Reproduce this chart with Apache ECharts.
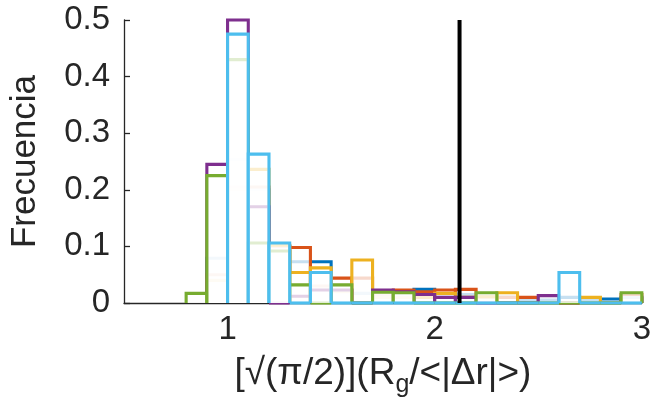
<!DOCTYPE html>
<html>
<head>
<meta charset="utf-8">
<script src="https://cdn.jsdelivr.net/npm/echarts@6/dist/echarts.min.js"></script>
<style>
  html, body { margin: 0; padding: 0; background: #ffffff; }
  #chart { width: 654px; height: 410px; }
</style>
</head>
<body>
<div id="chart"></div>
<script>
// Left edges of the histogram bins (all bins are 0.1 wide)
const binEdges = [0.8, 0.9, 1.0, 1.1, 1.2, 1.3, 1.4, 1.5, 1.6, 1.7, 1.8,
                  1.9, 2.0, 2.1, 2.2, 2.3, 2.4, 2.5, 2.6, 2.7, 2.8, 2.9];
const binWidth = 0.1;

// Relative frequency per bin for each data set (null = outside that set's range)
const freqSet1 = [null, 0.079, 0.253, 0.200, 0.100, 0.073, 0.073, 0.020, 0.017, 0.015, 0.015,
                  0.024, 0.015, 0.015, 0.010, 0.010, 0.005, 0.005, 0.010, 0.005, 0.007, 0.010];
const freqSet2 = [null, 0.050, 0.205, 0.205, 0.100, 0.098, 0.030, 0.044, 0.044, 0.015, 0.023,
                  0.020, 0.023, 0.024, 0.010, 0.010, 0.010, 0, 0, 0, 0, 0.015];
const freqSet3 = [null, 0.040, 0.200, 0.236, 0.102, 0.054, 0.062, 0.020, 0.076, 0.010, 0.010,
                  0.010, 0.017, 0.010, 0.011, 0.018, 0, 0, 0, 0.010, 0, null];
const freqSet4 = [null, 0.245, 0.500, 0.170, 0, 0.012, 0.023, 0.023, 0, 0.023, 0.020,
                  0.015, 0.010, 0.010, 0, 0, 0, 0.013, 0, null, null, null];
const freqSet5 = [0.017, 0.225, 0.430, 0.106, 0.092, 0.032, 0, 0.032, 0, 0.019, 0.018,
                  0, 0, 0, 0.018, 0, 0, 0, 0, 0, 0, 0.018];
const freqSet6 = [null, null, 0.475, 0.263, 0.106, 0, 0.054, 0, 0, 0, 0,
                  0, 0, 0, 0, 0, 0, 0, 0.054, 0, 0, 0];

const setColors = ['#0072BD', '#D95319', '#EDB120', '#7E2F8E', '#77AC30', '#4DBEEE'];
const allSets = [freqSet1, freqSet2, freqSet3, freqSet4, freqSet5, freqSet6];

// Reference value marked by the vertical line
const thresholdX = 2.12;

const xTicks = [1, 2, 3];
const yMin = 0, yMax = 0.5, yStep = 0.1;

const textColor = '#262626';
const fontFamily = '"Liberation Sans", Arial, Helvetica, sans-serif';

// One outlined bar per bin: translucent white face, coloured top and sides,
// empty bins collapse to a coloured segment on the baseline.
function renderBin(params, api) {
  const x0 = api.value(0);
  const h = api.value(1);
  const base = api.coord([x0, 0]);
  const top = api.coord([x0 + binWidth, h]);
  const color = api.visual('color');
  const lw = 3.1;
  if (h === 0) {
    return {
      type: 'line',
      shape: { x1: base[0], y1: base[1], x2: top[0], y2: base[1] },
      style: { stroke: color, lineWidth: lw }
    };
  }
  return {
    type: 'group',
    children: [
      {
        type: 'rect',
        shape: { x: base[0], y: top[1], width: top[0] - base[0], height: base[1] - top[1] },
        style: { fill: 'rgba(255,255,255,0.78)' }
      },
      {
        type: 'polyline',
        shape: { points: [[base[0], base[1]], [base[0], top[1]], [top[0], top[1]], [top[0], base[1]]] },
        style: { stroke: color, fill: null, lineWidth: lw, lineJoin: 'miter' }
      }
    ]
  };
}

const histSeries = allSets.map((vals, k) => ({
  type: 'custom',
  name: 'set' + (k + 1),
  renderItem: renderBin,
  clip: false,
  z: 2 + k,
  itemStyle: { color: setColors[k] },
  encode: { x: 0, y: 1 },
  data: binEdges.map((e, i) => [e, vals[i]]).filter(d => d[1] !== null)
}));

const chart = echarts.init(document.getElementById('chart'), null, { renderer: 'canvas' });
chart.setOption({
  animation: false,
  backgroundColor: '#ffffff',
  grid: { left: 123, right: 8, top: 20, bottom: 107, containLabel: false },
  xAxis: {
    type: 'value',
    min: 0.5,
    max: 3,
    name: '[√(π/2)](R{sub|g}/<|Δr|>)',
    nameLocation: 'middle',
    nameGap: 46,
    nameTextStyle: {
      color: textColor, fontSize: 37, fontFamily: fontFamily,
      rich: { sub: { fontSize: 25, fontFamily: fontFamily, color: textColor, padding: [24, 0, 0, 0] } }
    },
    axisLine: { show: true, lineStyle: { color: textColor, width: 1.3 } },
    axisTick: { show: true, inside: true, length: 6, customValues: xTicks, lineStyle: { color: textColor, width: 1.3 } },
    axisLabel: { customValues: xTicks, color: textColor, fontSize: 33, fontFamily: fontFamily, margin: 10 },
    splitLine: { show: false }
  },
  yAxis: {
    type: 'value',
    min: yMin,
    max: yMax,
    interval: yStep,
    name: 'Frecuencia',
    nameLocation: 'middle',
    nameGap: 81,
    nameTextStyle: { color: textColor, fontSize: 35, fontFamily: fontFamily },
    axisLine: { show: true, lineStyle: { color: textColor, width: 1.3 } },
    axisTick: { show: true, inside: true, length: 6, lineStyle: { color: textColor, width: 1.3 } },
    axisLabel: { color: textColor, fontSize: 33, fontFamily: fontFamily, margin: 14 },
    splitLine: { show: false }
  },
  series: histSeries.concat([{
    type: 'line',
    name: 'threshold',
    z: 20,
    symbol: 'none',
    lineStyle: { color: '#000000', width: 4 },
    data: [[thresholdX, yMin], [thresholdX, yMax]]
  }])
});
</script>
</body>
</html>
